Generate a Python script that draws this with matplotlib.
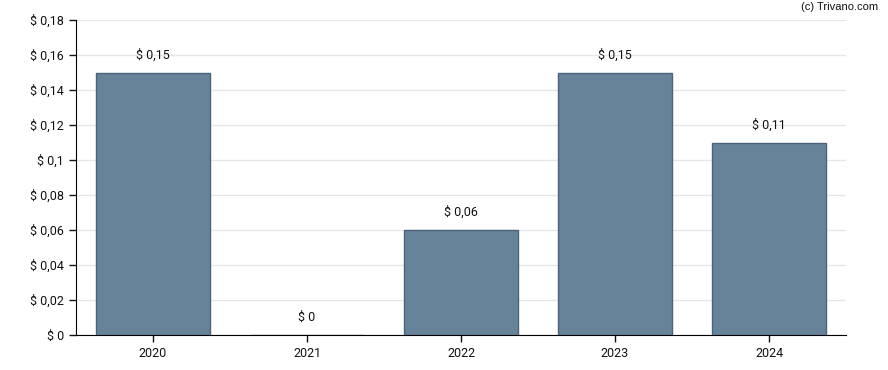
import matplotlib
matplotlib.use('Agg')
import matplotlib.pyplot as plt

# データ
years = ['2020', '2021', '2022', '2023', '2024']
dividends = [0.15, 0, 0.06, 0.15, 0.11]
y_ticks = [0, 0.02, 0.04, 0.06, 0.08, 0.1, 0.12, 0.14, 0.16, 0.18]

plt.rcParams['font.family'] = ['Roboto', 'DejaVu Sans']

def fmt(v):
    s = ('%.2f' % v).rstrip('0').rstrip('.')
    return '$ ' + s.replace('.', ',')

fig = plt.figure(figsize=(8.88, 3.70), dpi=100)
ax = fig.add_axes([76 / 888, 1 - 335 / 370, 770 / 888, 315 / 370])

x = range(len(years))
ax.bar(x, dividends, width=0.74, color='#67839a', edgecolor='#4a637a', linewidth=1, zorder=3)

# 値ラベル
for xi, v in zip(x, dividends):
    ax.annotate(fmt(v), (xi, v), xytext=(0, 8), textcoords='offset points',
                ha='center', va='bottom', fontsize=9, color='#111111')

ax.set_xlim(-0.5, len(years) - 0.5)
ax.set_ylim(0, 0.18)
ax.set_xticks(list(x))
ax.set_xticklabels(years)
ax.set_yticks(y_ticks)
ax.set_yticklabels([fmt(t) for t in y_ticks])
ax.tick_params(labelsize=9, colors='#111111', length=5, width=1)
ax.grid(axis='y', color='#e6e6e6', linewidth=1, zorder=0)
for side in ['top', 'right']:
    ax.spines[side].set_visible(False)
for side in ['left', 'bottom']:
    ax.spines[side].set_color('black')

fig.text(878 / 888, 1 - 7 / 370, '(c) Trivano.com', ha='right', va='center',
         fontsize=8, color='#111111', family=['Liberation Sans', 'DejaVu Sans'])

fig.savefig('out.png', dpi=100)
